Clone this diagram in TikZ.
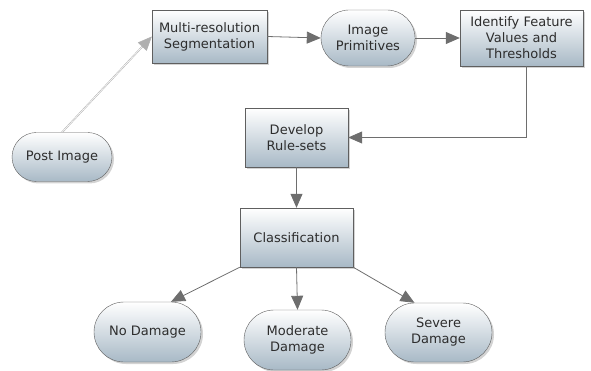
\documentclass[tikz,border=0pt]{standalone}
\usepackage{fontspec}
\setmainfont{DejaVu Sans}
\usetikzlibrary{arrows.meta,shapes.misc,shadows}

\definecolor{boxedge}{RGB}{95,95,95}
\definecolor{boxbottom}{RGB}{168,185,198}
\definecolor{linkgray}{RGB}{110,110,110}
\definecolor{textgray}{RGB}{45,45,45}

\tikzset{
  stepbox/.style={draw=boxedge, top color=white, bottom color=boxbottom,
    drop shadow={shadow xshift=2pt, shadow yshift=-2pt, opacity=.35},
    align=center, text=textgray, font=\fontsize{13}{16}\selectfont, inner sep=2pt},
  pill/.style={stepbox, rounded rectangle},
  link/.style={draw=linkgray, line width=.8pt,
    -{Triangle[length=14pt,width=12pt]}, color=linkgray}
}

\begin{document}
\begin{tikzpicture}[x=1pt,y=-1pt]
  \useasboundingbox (0,0) rectangle (591,371);
  % define the nodes
  \node[pill, minimum width=104, minimum height=49] (post) at (62,157) {Post Image};
  \node[stepbox, minimum width=115, minimum height=53] (multi) at (209.5,36.5) {Multi-resolution\\Segmentation};
  \node[pill, minimum width=98, minimum height=56] (prim) at (368,38) {Image\\Primitives};
  \node[stepbox, minimum width=123, minimum height=56] (ident) at (521.5,38) {Identify Feature\\Values and\\Thresholds};
  \node[stepbox, minimum width=103, minimum height=59] (dev) at (296.5,137.5) {Develop\\Rule-sets};
  \node[stepbox, minimum width=113, minimum height=59] (cls) at (296.5,237.5) {Classification};
  \node[pill, minimum width=111, minimum height=60] (nodmg) at (147.5,332) {No Damage};
  \node[pill, minimum width=111, minimum height=60] (moddmg) at (297.5,340) {Moderate\\Damage};
  \node[pill, minimum width=111, minimum height=59] (sevdmg) at (438.5,332.5) {Severe\\Damage};
  % draw the links
  \draw[link, draw=linkgray!55, double=white, double distance=.6pt, line width=.5pt] (post.north) -- (multi.west);
  \draw[link] (multi.east) -- (prim.west);
  \draw[link] (prim.east) -- (ident.west);
  \draw[link] ([xshift=5pt]ident.south) |- (dev.east);
  \draw[link] (dev.south) -- (cls.north);
  \draw[link] (cls.south west) -- (nodmg.north east);
  \draw[link] (cls.south) -- (moddmg.north);
  \draw[link] (cls.south east) -- (sevdmg.north west);
\end{tikzpicture}
\end{document}
